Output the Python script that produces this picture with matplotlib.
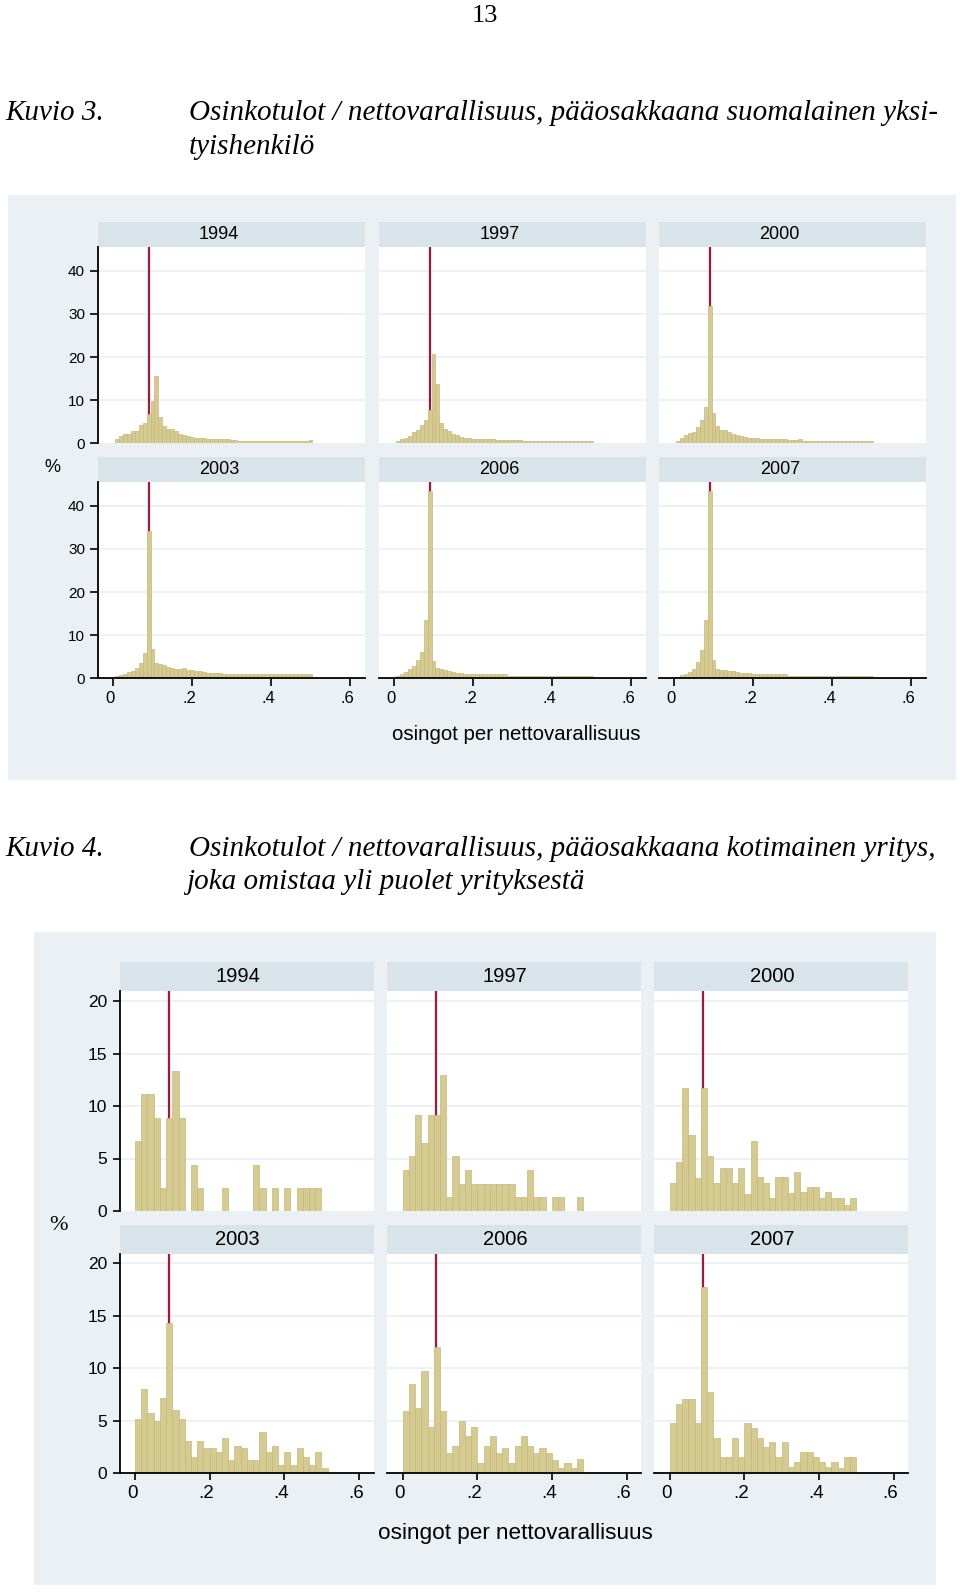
import numpy as np
import matplotlib
matplotlib.use("Agg")
import matplotlib.pyplot as plt
import matplotlib.transforms as mtransforms
from matplotlib.patches import Rectangle

# ---- data: percent of firms per bin ----
years = ["1994", "1997", "2000", "2003", "2006", "2007"]

# Kuvio 3: bins of width 0.01, centred on 0.01, 0.02, ... 0.50
top_1994 = [0.9, 1.7, 2.1, 2.1, 2.9, 2.9, 4.2, 4.8, 6.9, 9.9,
            15.5, 6.2, 3.9, 3.3, 3.2, 2.9, 2.2, 1.9, 1.8, 1.4,
            1.3, 1.2, 1.2, 1.0, 0.9, 0.9, 0.9, 0.9, 0.9, 0.8,
            0.8, 0.6, 0.5, 0.5, 0.5, 0.5, 0.5, 0.5, 0.5, 0.5,
            0.5, 0.5, 0.5, 0.5, 0.5, 0.5, 0.5, 0.5, 0.5, 0.7]
top_1997 = [0.6, 0.9, 1.3, 1.8, 2.6, 3.0, 4.2, 5.5, 7.8, 20.8,
            13.7, 4.8, 3.3, 2.8, 2.2, 1.9, 1.5, 1.3, 1.2, 1.1,
            1.0, 1.0, 0.9, 1.0, 0.9, 0.8, 0.8, 0.8, 0.8, 0.7,
            0.8, 0.8, 0.6, 0.6, 0.6, 0.6, 0.6, 0.6, 0.6, 0.6,
            0.6, 0.6, 0.6, 0.6, 0.6, 0.6, 0.6, 0.6, 0.6, 0.6]
top_2000 = [0.6, 1.2, 1.9, 2.3, 2.7, 3.8, 5.4, 8.3, 31.9, 7.0,
            4.0, 3.1, 3.0, 2.6, 2.2, 1.9, 1.6, 1.5, 1.3, 1.3,
            1.2, 1.1, 1.1, 1.0, 1.0, 0.9, 0.9, 0.9, 0.8, 0.8,
            0.8, 0.9, 0.6, 0.6, 0.6, 0.6, 0.6, 0.6, 0.6, 0.6,
            0.6, 0.6, 0.6, 0.6, 0.6, 0.6, 0.6, 0.6, 0.6, 0.6]
top_2003 = [0.6, 0.8, 1.1, 1.4, 1.8, 2.4, 3.5, 5.9, 34.1, 6.8,
            3.6, 3.3, 3.0, 2.7, 2.5, 2.2, 2.1, 2.3, 2.0, 1.9,
            1.7, 1.6, 1.5, 1.3, 1.3, 1.2, 1.2, 1.1, 1.1, 1.1,
            1.1, 1.0, 0.9, 0.9, 0.9, 0.9, 0.9, 0.9, 0.9, 0.9,
            0.9, 0.9, 0.9, 0.9, 0.9, 0.9, 0.9, 0.9, 0.9, 0.9]
top_2006 = [0.5, 0.9, 1.4, 2.1, 2.9, 4.2, 6.1, 13.5, 43.3, 4.1,
            2.5, 2.2, 2.0, 1.7, 1.5, 1.3, 1.2, 1.1, 1.0, 0.9,
            0.9, 0.9, 0.9, 0.9, 0.9, 0.9, 0.9, 0.9, 0.5, 0.5,
            0.5, 0.5, 0.5, 0.5, 0.5, 0.5, 0.5, 0.5, 0.5, 0.5,
            0.5, 0.5, 0.5, 0.5, 0.5, 0.5, 0.5, 0.5, 0.5, 0.5]
top_2007 = [0.4, 0.7, 1.1, 1.5, 2.2, 3.8, 6.5, 13.6, 43.5, 4.2,
            2.1, 2.0, 1.9, 1.7, 1.6, 1.5, 1.3, 1.2, 1.2, 1.1,
            1.0, 0.9, 0.9, 0.9, 0.9, 0.9, 0.9, 0.9, 0.5, 0.5,
            0.5, 0.5, 0.5, 0.5, 0.5, 0.5, 0.5, 0.5, 0.5, 0.5,
            0.5, 0.5, 0.5, 0.5, 0.5, 0.5, 0.5, 0.5, 0.5, 0.5]

# Kuvio 4: bins of width 1/60 starting at 0
bot_1994 = [6.7, 11.1, 11.1, 8.9, 2.2, 8.9, 13.3, 8.9, 0, 4.4,
            2.2, 0, 0, 0, 2.2, 0, 0, 0, 0, 4.4,
            2.2, 0, 2.2, 0, 2.2, 0, 2.2, 2.2, 2.2, 2.2]
bot_1997 = [3.9, 5.2, 9.1, 6.5, 9.1, 9.1, 13.0, 1.3, 5.2, 2.6,
            3.9, 2.6, 2.6, 2.6, 2.6, 2.6, 2.6, 2.6, 1.3, 1.3,
            3.9, 1.3, 1.3, 0, 1.3, 1.3, 0, 0, 1.3]
bot_2000 = [2.7, 4.7, 11.7, 7.2, 3.1, 11.7, 5.2, 2.7, 4.1, 4.1,
            2.7, 4.1, 1.6, 6.7, 3.2, 2.7, 1.2, 3.2, 3.2, 1.7,
            3.7, 1.8, 2.3, 2.3, 1.2, 1.8, 1.2, 1.2, 0.6, 1.2]
bot_2003 = [5.2, 8.0, 5.7, 5.0, 7.2, 14.3, 6.0, 5.2, 3.1, 1.6,
            3.1, 2.4, 2.4, 2.0, 3.4, 1.3, 2.6, 2.4, 1.3, 1.3,
            3.9, 2.0, 2.6, 0.8, 2.0, 0.8, 2.4, 1.6, 0.8, 2.0, 0.5]
bot_2006 = [5.9, 8.5, 6.2, 9.7, 4.4, 12.0, 5.9, 1.9, 2.6, 5.0,
            3.6, 4.4, 1.0, 2.6, 3.6, 1.9, 2.4, 1.0, 2.6, 3.6,
            2.6, 1.9, 2.4, 1.9, 1.3, 0.5, 1.0, 0.5, 1.4]
bot_2007 = [4.8, 6.6, 7.1, 7.1, 4.8, 17.7, 7.7, 3.4, 1.6, 1.6,
            3.4, 1.6, 4.8, 4.3, 3.4, 2.5, 3.0, 1.6, 3.0, 0.6,
            1.1, 2.0, 2.0, 1.6, 1.1, 0.6, 1.1, 0.5, 1.6, 1.6]

threshold = 0.09
x_ticks = [0, 0.2, 0.4, 0.6]
x_ticklabels = ["0", ".2", ".4", ".6"]
top_yticks = [0, 10, 20, 30, 40]
bot_yticks = [0, 5, 10, 15, 20]
xtitle = "osingot per nettovarallisuus"

# ---- styling ----
W, H = 960, 1592
BG = "#EAF0F3"
STRIP = "#D9E4EA"
GRID = "#E6EDF1"
BAR = "#D5CB90"
BAR_EDGE = "#C4B97B"
RED = "#A3173F"
SANS = "Liberation Sans"
SERIF = "Liberation Serif"
CAP = 21

fig = plt.figure(figsize=(W / 100, H / 100), dpi=100)
fig.patch.set_facecolor("white")
shift_left = mtransforms.ScaledTranslation(-3 / 100, 0, fig.dpi_scale_trans)


def box(x0, y0, x1, y1):
    return [x0 / W, 1 - y1 / H, (x1 - x0) / W, (y1 - y0) / H]


def ftext(x, y, s, **kw):
    fig.text(x / W, 1 - y / H, s, **kw)


def background(x0, y0, x1, y1):
    fig.add_artist(Rectangle((x0 / W, 1 - y1 / H), (x1 - x0) / W, (y1 - y0) / H,
                             transform=fig.transFigure, facecolor=BG,
                             edgecolor="none", zorder=0))


def panel(col, strip_y, plot_y, year, heights, bw, first_c, ymax, yticks,
          left, bottom, zero_off, ppu, fs_strip, fs_tick, tick_len, lab_off):
    x0, x1 = col
    sax = fig.add_axes(box(x0, strip_y[0], x1, strip_y[1]))
    sax.set_facecolor(STRIP)
    sax.set_xticks([])
    sax.set_yticks([])
    for s in sax.spines.values():
        s.set_visible(False)
    sax.text(0.5 - lab_off / (x1 - x0), 0.5, year, ha="center", va="center",
             fontsize=fs_strip, family=SANS, transform=sax.transAxes)

    ax = fig.add_axes(box(x0, plot_y[0], x1, plot_y[1]))
    ax.set_facecolor("white")
    ax.set_xlim(-zero_off / ppu, (x1 - x0 - zero_off) / ppu)
    ax.set_ylim(0, ymax)
    for y in yticks[1:]:
        ax.axhline(y, color=GRID, lw=1.1, zorder=0)
    h = np.array(heights, dtype=float)
    c = first_c + bw * np.arange(len(h))
    keep = h > 0
    ax.bar(c[keep], h[keep], width=bw, color=BAR, edgecolor=BAR_EDGE,
           linewidth=0.5, zorder=2)
    ax.axvline(threshold, color=RED, lw=1.6, zorder=1)

    for side in ["top", "right"]:
        ax.spines[side].set_visible(False)
    ax.spines["left"].set_visible(left)
    ax.spines["bottom"].set_visible(bottom)
    ax.spines["left"].set_linewidth(1.3)
    ax.spines["bottom"].set_linewidth(1.3)
    ax.set_yticks(yticks)
    ax.set_xticks(x_ticks)
    ax.set_xticklabels(x_ticklabels)
    ax.tick_params(axis="y", left=left, labelleft=left, direction="out",
                   length=tick_len, width=1.2, pad=3.5, labelsize=fs_tick)
    ax.tick_params(axis="x", bottom=bottom, labelbottom=bottom, direction="out",
                   length=tick_len, width=1.2, pad=3.5, labelsize=fs_tick + 1)
    for lab in ax.get_xticklabels():
        lab.set_family(SANS)
        lab.set_transform(lab.get_transform() + shift_left)
    for lab in ax.get_yticklabels():
        lab.set_family(SANS)
    return ax


# ---- page text ----
ftext(485, 16, "13", ha="center", va="center", fontsize=19, family=SERIF)
ftext(5, 113, "Kuvio 3.", ha="left", va="center", fontsize=CAP,
      family=SERIF, style="italic")
ftext(189, 113, "Osinkotulot / nettovarallisuus, pääosakkaana suomalainen yksi-",
      ha="left", va="center", fontsize=CAP, family=SERIF, style="italic")
ftext(189, 147, "tyishenkilö", ha="left", va="center", fontsize=CAP,
      family=SERIF, style="italic")
ftext(5, 849, "Kuvio 4.", ha="left", va="center", fontsize=CAP,
      family=SERIF, style="italic")
ftext(189, 849, "Osinkotulot / nettovarallisuus, pääosakkaana kotimainen yritys,",
      ha="left", va="center", fontsize=CAP, family=SERIF, style="italic")
ftext(186, 882, "joka omistaa yli puolet yrityksestä", ha="left", va="center",
      fontsize=CAP, family=SERIF, style="italic")

# ---- Kuvio 3 ----
background(8, 195, 956, 780)
top_cols = [(97.5, 365), (378.5, 645.5), (658.5, 926)]
top_rows = [((222, 247), (247, 443.3)), ((457, 482), (482, 678.3))]
top_data = [top_1994, top_1997, top_2000, top_2003, top_2006, top_2007]
for i, (yr, hts) in enumerate(zip(years, top_data)):
    r, cidx = divmod(i, 3)
    srow, prow = top_rows[r]
    panel(top_cols[cidx], srow, prow, yr, hts, 0.01, 0.01, 45.5, top_yticks,
          left=(cidx == 0), bottom=(r == 1), zero_off=15.5, ppu=395,
          fs_strip=13, fs_tick=11, tick_len=5.5, lab_off=12.5)
ftext(52, 468, "%", ha="center", va="center", fontsize=13, family=SANS)
ftext(516, 734, xtitle, ha="center", va="center", fontsize=14.7, family=SANS)

# ---- Kuvio 4 ----
background(34, 931.6, 936, 1585)
bot_cols = [(119.5, 373.5), (387.2, 641.2), (654.3, 908.3)]
bot_rows = [((962.3, 991), (991, 1211)), ((1225, 1253.5), (1253.5, 1473.3))]
bot_data = [bot_1994, bot_1997, bot_2000, bot_2003, bot_2006, bot_2007]
bw4 = 1 / 60
for i, (yr, hts) in enumerate(zip(years, bot_data)):
    r, cidx = divmod(i, 3)
    srow, prow = bot_rows[r]
    ymax = (prow[1] - prow[0]) / 10.5
    panel(bot_cols[cidx], srow, prow, yr, hts, bw4, bw4 / 2, ymax, bot_yticks,
          left=(cidx == 0), bottom=(r == 1), zero_off=15.5, ppu=373,
          fs_strip=14.5, fs_tick=12.5, tick_len=5.2, lab_off=9)
ftext(58, 1226, "%", ha="center", va="center", fontsize=16, family=SERIF)
ftext(515, 1534, xtitle, ha="center", va="center", fontsize=16.2, family=SANS)

fig.savefig("out.png", dpi=100)
